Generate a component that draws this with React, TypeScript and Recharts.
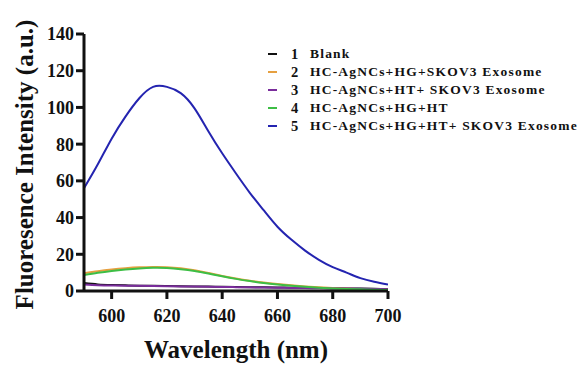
import React from "react";
import { LineChart, Line, XAxis, YAxis } from "recharts";

const wavelengths = [
  590, 595, 600, 605, 610, 615, 620, 625, 630, 635, 640, 645, 650, 655, 660,
  665, 670, 675, 680, 685, 690, 695, 700,
];

// 1 Blank
const blank = [
  4.3, 3.6, 3.3, 3.1, 2.9, 2.8, 2.7, 2.6, 2.5, 2.4, 2.3, 2.2, 2.1, 2.0, 1.9,
  1.8, 1.7, 1.6, 1.5, 1.4, 1.3, 1.2, 1.1,
];
// 2 HC-AgNCs+HG+SKOV3 Exosome
const hgExo = [
  9.7, 10.8, 11.7, 12.4, 12.9, 13.1, 13.0, 12.4, 11.3, 9.8, 8.2, 6.8, 5.6, 4.6,
  3.8, 3.1, 2.5, 2.0, 1.6, 1.3, 1.1, 0.9, 0.8,
];
// 3 HC-AgNCs+HT+ SKOV3 Exosome
const htExo = [
  3.6, 3.2, 3.0, 2.9, 2.8, 2.7, 2.6, 2.5, 2.4, 2.3, 2.2, 2.1, 2.0, 1.9, 1.8,
  1.7, 1.6, 1.5, 1.4, 1.3, 1.2, 1.1, 1.0,
];
// 4 HC-AgNCs+HG+HT
const hgHt = [
  8.7, 9.9, 10.9, 11.7, 12.3, 12.6, 12.5, 11.9, 10.9, 9.5, 8.0, 6.6, 5.4, 4.4,
  3.6, 2.9, 2.3, 1.8, 1.4, 1.1, 0.9, 0.7, 0.6,
];
// 5 HC-AgNCs+HG+HT+ SKOV3 Exosome
const hgHtExo = [
  56, 69, 83, 95, 105, 111.2, 111.2, 107.8, 99.5, 87, 75, 64, 53.5, 44, 35, 28,
  22, 17, 13, 10, 7, 5, 3.5,
];

const xTicks = [600, 620, 640, 660, 680, 700];
const yTicks = [0, 20, 40, 60, 80, 100, 120, 140];

const series = [
  { key: "blank", num: "1", name: "Blank", color: "#111111" },
  { key: "hgExo", num: "2", name: "HC-AgNCs+HG+SKOV3 Exosome", color: "#E6A040" },
  { key: "htExo", num: "3", name: "HC-AgNCs+HT+ SKOV3 Exosome", color: "#7A2D9C" },
  { key: "hgHt", num: "4", name: "HC-AgNCs+HG+HT", color: "#3DBE45" },
  { key: "hgHtExo", num: "5", name: "HC-AgNCs+HG+HT+ SKOV3 Exosome", color: "#2424B0" },
];

const data = wavelengths.map((w, i) => ({
  w,
  blank: blank[i],
  hgExo: hgExo[i],
  htExo: htExo[i],
  hgHt: hgHt[i],
  hgHtExo: hgHtExo[i],
}));

const font = "'Liberation Serif', 'Times New Roman', serif";

function LegendBox() {
  return (
    <div
      style={{
        position: "absolute",
        left: 268,
        top: 45,
        fontFamily: font,
        fontWeight: 700,
        color: "#111",
        whiteSpace: "nowrap",
      }}
    >
      {series.map((s) => (
        <div
          key={s.key}
          style={{ display: "flex", alignItems: "center", height: 18 }}
        >
          <span
            style={{
              display: "inline-block",
              width: 9,
              height: 2,
              background: s.color,
              marginRight: 14,
            }}
          />
          <span style={{ fontSize: 14.5, width: 19 }}>{s.num}</span>
          <span style={{ fontSize: 13.5, letterSpacing: 1.2 }}>{s.name}</span>
        </div>
      ))}
    </div>
  );
}

function YTitle({ viewBox }: any) {
  const x = 33;
  const y = viewBox.y + viewBox.height / 2 + 2;
  return (
    <text
      x={x}
      y={y}
      transform={`rotate(-90, ${x}, ${y})`}
      textAnchor="middle"
      fontFamily={font}
      fontWeight={700}
      fontSize={25}
      fill="#111"
    >
      Fluoresence Intensity (a.u.)
    </text>
  );
}

export default function App() {
  return (
    <div
      style={{
        position: "absolute",
        left: 0,
        top: 0,
        width: 586,
        height: 367,
        background: "#fff",
      }}
    >
      <LineChart
        width={586}
        height={367}
        data={data}
        margin={{ top: 34, right: 198, bottom: 0, left: 0 }}
      >
        <XAxis
          dataKey="w"
          type="number"
          domain={[590, 700]}
          ticks={xTicks}
          allowDataOverflow
          stroke="#111"
          strokeWidth={3}
          tickSize={8}
          tickMargin={10}
          tick={{ fill: "#111", fontSize: 18, fontWeight: 700, fontFamily: font }}
          height={76}
          label={{
            value: "Wavelength (nm)",
            position: "insideBottom",
            offset: 9,
            style: { fill: "#111", fontSize: 25, fontWeight: 700, fontFamily: font },
          }}
        />
        <YAxis
          type="number"
          domain={[0, 140]}
          ticks={yTicks}
          width={84}
          stroke="#111"
          strokeWidth={3}
          tickSize={8}
          tickMargin={2}
          tick={{ fill: "#111", fontSize: 18, fontWeight: 700, fontFamily: font }}
          label={<YTitle />}
        />
        {series.map((s) => (
          <Line
            key={s.key}
            dataKey={s.key}
            type="natural"
            stroke={s.color}
            strokeWidth={2}
            dot={false}
            isAnimationActive={false}
          />
        ))}
      </LineChart>
      <LegendBox />
    </div>
  );
}
